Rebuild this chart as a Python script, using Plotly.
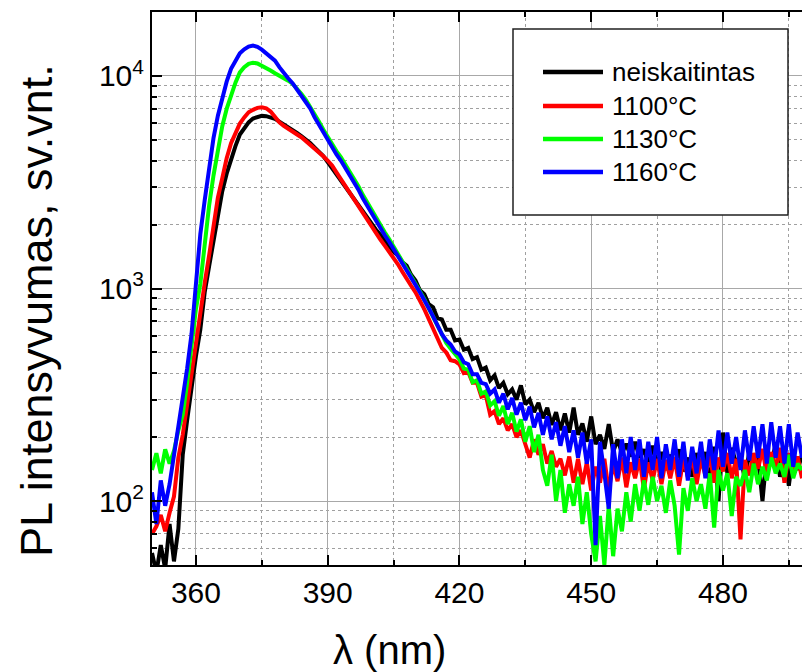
import numpy as np
import plotly.graph_objects as go

# Wavelength grid (nm)
wavelength = list(range(350, 499))

series_names = ["neiskaitintas", "1100°C", "1130°C", "1160°C"]
series_colors = ["#000000", "#ff0000", "#00ff00", "#0000ff"]

# PL intensity (arb. units), one value per nm from 350 to 498 nm
pl_unannealed = [
    57, 46, 62, 48, 78, 52, 74, 165, 240, 355,
    480, 640, 960, 1270, 1690, 2260, 2870, 3470, 4110, 4680,
    5300, 5680, 6050, 6310, 6430, 6490, 6470, 6380, 6280, 6100,
    5930, 5760, 5580, 5400, 5220, 5050, 4840, 4610, 4400, 4200,
    3940, 3680, 3440, 3220, 3010, 2810, 2620, 2450, 2290, 2140,
    2010, 1890, 1790, 1680, 1600, 1490, 1430, 1330, 1280, 1160,
    1090, 980, 940, 845, 815, 725, 715, 640, 640, 570,
    575, 515, 525, 465, 475, 415, 425, 370, 390, 340,
    360, 318, 335, 300, 350, 285, 300, 262, 290, 245,
    275, 228, 262, 215, 258, 210, 275, 205, 232, 190,
    250, 185, 205, 176, 230, 170, 195, 168, 186, 162,
    190, 160, 175, 150, 182, 148, 170, 140, 165, 150,
    175, 138, 160, 130, 168, 145, 170, 120, 180, 100,
    210, 135, 178, 150, 165, 125, 172, 140, 160, 100,
    168, 150, 185, 130, 175, 118, 170, 140, 165,
]

pl_1100 = [
    70, 76, 86, 72, 88, 105, 160, 205, 285, 400,
    540, 780, 1060, 1430, 1960, 2680, 3300, 4100, 4830, 5390,
    5970, 6380, 6750, 6930, 7080, 7130, 7050, 6800, 6420, 6050,
    5830, 5660, 5480, 5310, 5150, 4950, 4760, 4580, 4390, 4190,
    4000, 3790, 3520, 3270, 3030, 2820, 2600, 2410, 2250, 2100,
    1940, 1810, 1700, 1590, 1490, 1400, 1300, 1200, 1100, 1030,
    960, 880, 800, 720, 650, 580, 525, 500, 460, 455,
    440, 400, 405, 360, 360, 310, 315, 255, 265, 230,
    245, 215, 230, 200, 215, 185, 160, 195, 165, 185,
    150, 172, 145, 158, 132, 162, 122, 158, 120, 152,
    112, 145, 122, 158, 112, 150, 124, 160, 116, 152,
    128, 158, 114, 152, 125, 158, 120, 156, 128, 160,
    118, 158, 130, 164, 120, 158, 132, 166, 122, 160,
    138, 168, 128, 158, 66, 156, 132, 168, 142, 176,
    132, 170, 142, 178, 122, 168, 132, 162, 128,
]

pl_1130 = [
    140, 168, 135, 175, 150, 172, 215, 255, 360, 520,
    800, 1050, 1650, 2450, 3400, 4550, 5800, 7000, 8150, 9300,
    10400, 11000, 11400, 11550, 11450, 11200, 10900, 10600, 10300, 10050,
    9800, 9500, 9200, 8750, 8250, 7750, 7200, 6600, 6100, 5600,
    5150, 4780, 4430, 4150, 3850, 3560, 3300, 3030, 2760, 2540,
    2330, 2150, 1990, 1840, 1710, 1580, 1460, 1350, 1250, 1150,
    1060, 970, 890, 810, 735, 660, 600, 555, 520, 490,
    465, 420, 415, 362, 370, 320, 328, 282, 295, 252,
    280, 230, 260, 212, 242, 190, 225, 170, 205, 140,
    118, 165, 100, 140, 88, 120, 95, 130, 78, 110,
    70, 52, 85, 50, 95, 55, 92, 72, 110, 80,
    120, 90, 125, 96, 130, 100, 118, 88, 125, 95,
    56, 115, 90, 128, 100, 120, 92, 135, 75, 140,
    112, 135, 85, 130, 118, 140, 110, 150, 120, 145,
    125, 160, 135, 150, 130, 165, 128, 150, 140,
]

pl_1160 = [
    110, 78, 125, 95, 120, 165, 225, 290, 420, 610,
    1000, 1800, 2600, 3700, 5100, 6500, 7900, 9400, 10800, 11900,
    12800, 13350, 13750, 13900, 13700, 13300, 12800, 12300, 11800, 11000,
    10300, 9750, 9250, 8650, 8100, 7600, 7050, 6400, 5900, 5400,
    4950, 4600, 4270, 4000, 3700, 3420, 3180, 2920, 2660, 2450,
    2250, 2080, 1930, 1780, 1660, 1540, 1430, 1320, 1220, 1130,
    1040, 960, 890, 810, 740, 670, 610, 570, 545, 505,
    490, 450, 440, 395, 395, 360, 355, 320, 335, 290,
    320, 270, 305, 255, 290, 240, 278, 222, 260, 205,
    250, 195, 235, 182, 225, 170, 215, 160, 210, 150,
    195, 62, 190, 135, 92, 185, 128, 195, 135, 200,
    140, 195, 130, 190, 140, 200, 128, 185, 140, 195,
    130, 190, 125, 180, 135, 190, 128, 195, 140, 215,
    145, 210, 150, 200, 140, 215, 155, 225, 160, 230,
    150, 235, 160, 225, 150, 230, 145, 210, 160,
]

series_values = [pl_unannealed, pl_1100, pl_1130, pl_1160]

x_major = [360, 390, 420, 450, 480]
x_minor = [375, 405, 435, 465, 495]
y_major = [100, 1000, 10000]
y_major_text = ["10<sup>2</sup>", "10<sup>3</sup>", "10<sup>4</sup>"]
y_minor = [50, 60, 70, 80, 90,
           200, 300, 400, 500, 600, 700, 800, 900,
           2000, 3000, 4000, 5000, 6000, 7000, 8000, 9000, 20000]

FONT = "Liberation Sans, Arial, sans-serif"
GRID = "#a8a8a8"
GRID_MINOR = "#a0a0a0"

fig = go.Figure()
for name, color, vals in zip(series_names, series_colors, series_values):
    fig.add_trace(go.Scatter(
        x=wavelength, y=vals, mode="lines", name=name,
        line=dict(color=color, width=4), showlegend=False,
    ))

fig.update_layout(
    width=802, height=672,
    margin=dict(l=152, r=0, t=12, b=107),
    paper_bgcolor="white", plot_bgcolor="white",
    font=dict(family=FONT, color="black"),
    xaxis=dict(
        range=[350, 498],
        tickmode="array", tickvals=x_major,
        ticks="inside", ticklen=10, tickwidth=2, tickcolor="black",
        showline=True, linewidth=2, linecolor="black", mirror="ticks",
        showgrid=True, gridcolor=GRID, gridwidth=1, zeroline=False,
        tickfont=dict(size=30),
        minor=dict(tickmode="array", tickvals=x_minor, ticks="inside",
                   ticklen=5, tickwidth=2, tickcolor="black",
                   showgrid=True, gridcolor=GRID_MINOR, gridwidth=1,
                   griddash="3px,3px"),
    ),
    yaxis=dict(
        type="log", range=[np.log10(50), np.log10(20000)],
        tickmode="array", tickvals=y_major, ticktext=y_major_text,
        ticks="inside", ticklen=10, tickwidth=2, tickcolor="black",
        showline=True, linewidth=2, linecolor="black", mirror=False,
        showgrid=True, gridcolor=GRID, gridwidth=1, zeroline=False,
        tickfont=dict(size=30),
        minor=dict(tickmode="array", tickvals=y_minor, ticks="inside",
                   ticklen=5, tickwidth=2, tickcolor="black",
                   showgrid=True, gridcolor=GRID_MINOR, gridwidth=1,
                   griddash="3px,3px"),
    ),
    yaxis2=dict(
        type="log", range=[np.log10(50), np.log10(20000)],
        overlaying="y", side="right", anchor="x",
        tickmode="array", tickvals=y_major, showticklabels=False,
        ticks="inside", ticklen=3, tickwidth=2, tickcolor="black",
        showline=False, showgrid=False, zeroline=False,
    ),
)

# Axis titles
fig.add_annotation(text="λ (nm)", xref="paper", yref="paper",
                   x=(389.5 - 152) / 650, y=-(650 - 565) / 553,
                   xanchor="center", yanchor="middle", showarrow=False,
                   font=dict(size=40, family=FONT))
fig.add_annotation(text="PL intensyvumas, sv.vnt.", xref="paper", yref="paper",
                   x=(37 - 152) / 650, y=(565 - 311) / 553, textangle=-90,
                   xanchor="center", yanchor="middle", showarrow=False,
                   font=dict(size=45, family=FONT))

# Legend box
def px_x(p):
    return (p - 152) / 650

def px_y(p):
    return (565 - p) / 553

fig.add_shape(type="rect", xref="paper", yref="paper",
              x0=px_x(513), x1=px_x(788), y0=px_y(215), y1=px_y(29),
              line=dict(color="#202020", width=1.5), fillcolor="white", layer="above")
row_y = [72, 106, 139, 172]
for name, color, ry in zip(series_names, series_colors, row_y):
    fig.add_shape(type="line", xref="paper", yref="paper",
                  x0=px_x(543), x1=px_x(603), y0=px_y(ry), y1=px_y(ry),
                  line=dict(color=color, width=4.5), layer="above")
    fig.add_annotation(text=name, xref="paper", yref="paper",
                       x=px_x(610), y=px_y(ry), xanchor="left", yanchor="middle",
                       showarrow=False, font=dict(size=26, family=FONT))

fig.write_html("out.html")
